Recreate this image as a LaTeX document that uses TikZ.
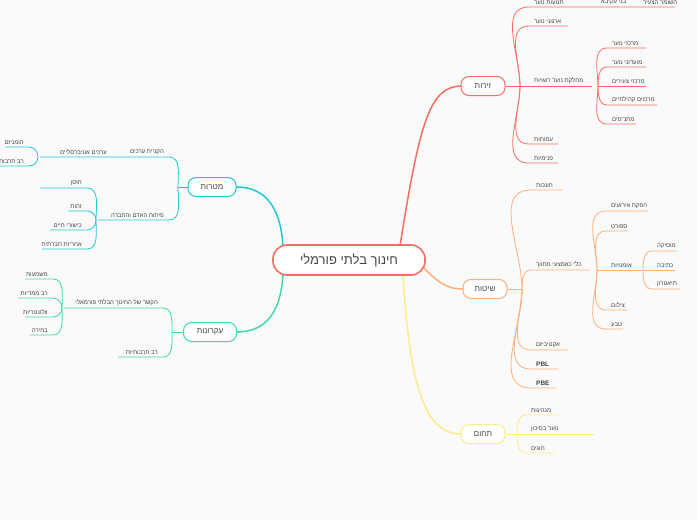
\documentclass[tikz,border=0pt]{standalone}
\usepackage{fontspec}
\setmainfont{Liberation Sans}
\newfontfamily\hebfont[Script=Hebrew]{Liberation Sans}
\TeXXeTstate=1
\newcommand\heb[1]{{\hebfont\beginR #1\endR}}
\definecolor{cred}{HTML}{F36F63}
\definecolor{corg}{HTML}{FDB07A}
\definecolor{cyel}{HTML}{FBEC8C}
\definecolor{cteal}{HTML}{1FC8D4}
\definecolor{cgrn}{HTML}{3DD9A6}
\definecolor{ctxt}{HTML}{454545}
\tikzset{
 lbl/.style={inner sep=1pt,text=ctxt,font=\fontsize{6}{7}\selectfont},
 mainbox/.style={draw,line width=1pt,rounded corners=8pt,fill=white,text=ctxt,font=\fontsize{8}{9}\selectfont,minimum height=19pt,inner sep=2pt},
 sub/.style={line width=0.8pt},
 trunk/.style={line width=1.5pt}
}
% right branch: style, bx, fy, y, xend, text, name
\newcommand\RB[7]{%
 \ifnum#4=#3 \draw[#1] (#2,#3) -- (#5,#4);%
 \else\ifnum#4<#3 \draw[#1] (#2,#3) to[out=90,in=180] ({#2+9},#4) -- (#5,#4);%
 \else \draw[#1] (#2,#3) to[out=-90,in=180] ({#2+9},#4) -- (#5,#4);\fi\fi
 \node[lbl,anchor=south west] (#7) at ({#2+13},{#4-1}) {\heb{#6}};}
\newcommand\LB[7]{%
 \ifnum#4=#3 \draw[#1] (#2,#3) -- (#5,#4);%
 \else\ifnum#4<#3 \draw[#1] (#2,#3) to[out=90,in=0] ({#2-9},#4) -- (#5,#4);%
 \else \draw[#1] (#2,#3) to[out=-90,in=0] ({#2-9},#4) -- (#5,#4);\fi\fi
 \node[lbl,anchor=south east] (#7) at ({#2-13},{#4-1}) {\heb{#6}};}
\begin{document}
\begin{tikzpicture}[x=1pt,y=-1pt]
\fill[white!98!black] (0,0) rectangle (697,520);
\useasboundingbox (0,0) rectangle (697,520);
% trunks
\draw[trunk,cred] (400,246) .. controls (420,120) and (430,86) .. (462,86);
\draw[trunk,corg] (424,268) .. controls (440,285) and (450,289) .. (463,289);
\draw[trunk,cyel] (403,275) .. controls (410,400) and (430,434) .. (461,434);
\draw[trunk,cteal] (283,246) .. controls (280,200) and (260,187) .. (236,187);
\draw[trunk,cgrn] (283,275) .. controls (280,320) and (260,332) .. (236,332);
% center and main nodes
\node[draw=cred,line width=1.6pt,rounded corners=14pt,fill=white,minimum width=152pt,minimum height=30pt,font=\fontsize{13}{15}\selectfont,text=ctxt] (c) at (349,260) {\heb{חינוך בלתי פורמלי}};
\node[mainbox,draw=cred,minimum width=44pt] (zr) at (483,86) {\heb{זירות}};
\node[mainbox,draw=corg,minimum width=44pt] (st) at (485,289) {\heb{שיטות}};
\node[mainbox,draw=cyel,minimum width=44pt] (th) at (483,434) {\heb{תחום}};
\node[mainbox,draw=cteal,minimum width=48pt] (mt) at (212,187) {\heb{מטרות}};
\node[mainbox,draw=cgrn,minimum width=53pt] (ek) at (210,332) {\heb{עקרונות}};
% red
\draw[sub,cred] (zr.east) -- (520,86);
\RB{sub,cred}{520}{86}{7}{675}{תנועות נוער}{r1}
\node[lbl,anchor=south west] (r1b) at (600,6) {\heb{בני עקיבא}};
\node[lbl,anchor=south west] (r1c) at (642,6) {\heb{השומר הצעיר}};
\RB{sub,cred}{520}{86}{26}{568}{ארגוני נוער}{r2}
\RB{sub,cred}{520}{86}{86}{592}{מחלקת נוער רשויות}{r3}
\RB{sub,cred}{520}{86}{144}{558}{עמותות}{r4}
\RB{sub,cred}{520}{86}{163}{558}{פנימיות}{r5}
\RB{sub,cred}{598}{86}{48}{646}{מרכזי נוער}{r31}
\RB{sub,cred}{598}{86}{67}{646}{מועדוני נוער}{r32}
\RB{sub,cred}{598}{86}{86}{646}{מרכזי צעירים}{r33}
\RB{sub,cred}{598}{86}{105}{657}{מרכזים קהילתיים}{r34}
\RB{sub,cred}{598}{86}{124}{636}{מתנ"סים}{r35}
% orange
\draw[sub,corg] (st.east) -- (522,289);
\RB{sub,corg}{522}{289}{190}{562}{חונכות}{o1}
\RB{sub,corg}{522}{289}{270}{590}{כלי כאמצעי מתווך}{o2}
\RB{sub,corg}{522}{289}{350}{568}{אקטיביזם}{o3}
\draw[sub,corg] (522,289) to[out=-90,in=180] (531,369) -- (558,369);
\node[lbl,anchor=south west,font=\fontsize{6.5}{7}\selectfont\bfseries] (o4) at (535,368) {PBL};
\draw[sub,corg] (522,289) to[out=-90,in=180] (531,388) -- (556,388);
\node[lbl,anchor=south west,font=\fontsize{6.5}{7}\selectfont\bfseries] (o5) at (535,387) {PBE};
\RB{sub,corg}{597}{270}{211}{648}{הפקת אירועים}{o21}
\RB{sub,corg}{597}{270}{231}{628}{ספורט}{o22}
\RB{sub,corg}{597}{270}{270}{642}{אומנויות}{o23}
\RB{sub,corg}{597}{270}{310}{627}{צילום}{o24}
\RB{sub,corg}{597}{270}{329}{623}{טבע}{o25}
\RB{sub,corg}{643}{270}{251}{677}{מוסיקה}{o231}
\RB{sub,corg}{643}{270}{270}{675}{כתיבה}{o232}
\RB{sub,corg}{643}{270}{289}{680}{תיאטרון}{o233}
% yellow
\draw[sub,cyel] (th.east) -- (517,434);
\RB{sub,cyel}{517}{434}{415}{558}{מנהיגות}{y1}
\RB{sub,cyel}{517}{434}{434}{594}{נוער בסיכון}{y2}
\RB{sub,cyel}{517}{434}{453}{555}{חוגים}{y3}
% teal
\draw[sub,cteal] (mt.west) -- (178,187);
\LB{sub,cteal}{178}{187}{157}{40}{הקניית ערכים}{t1}
\node[lbl,anchor=south east] (t1b) at (108,156) {\heb{ערכים אוניברסליים}};
\LB{sub,cteal}{178}{187}{220}{98}{פיתוח האדם והחברה}{t2}
\LB{sub,cteal}{38}{157}{147}{5}{הומניזם}{t11}
\LB{sub,cteal}{38}{157}{166}{0}{רב תרבותיות}{t12}
\LB{sub,cteal}{96}{220}{188}{40}{חוסן}{t21}
\LB{sub,cteal}{96}{220}{211}{68}{זהות}{t22}
\LB{sub,cteal}{96}{220}{230}{50}{כישורי חיים}{t23}
\LB{sub,cteal}{96}{220}{249}{42}{אחריות חברתית}{t24}
% green
\draw[sub,cgrn] (ek.west) -- (172,332);
\LB{sub,cgrn}{172}{332}{308}{64}{הקשר של החינוך הבלתי פורמאלי}{g1}
\LB{sub,cgrn}{172}{332}{357}{118}{רב תרבותיות}{g2}
\LB{sub,cgrn}{62}{308}{279}{25}{משמעות}{g11}
\LB{sub,cgrn}{62}{308}{298}{18}{רב ממדיות}{g12}
\LB{sub,cgrn}{62}{308}{317}{25}{וולונטריות}{g13}
\LB{sub,cgrn}{62}{308}{335}{30}{בחירה}{g14}
\end{tikzpicture}
\end{document}
